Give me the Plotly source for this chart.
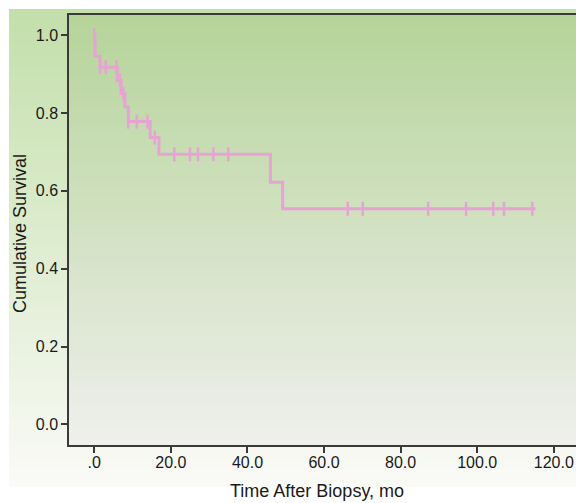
import plotly.graph_objects as go

# ---- data ----
event_times = [0.2, 1.5, 6.0, 7.0, 8.0, 8.9, 14.6, 16.9, 46.0, 49.2]
survival = [0.946, 0.918, 0.884, 0.850, 0.816, 0.778, 0.737, 0.694, 0.622, 0.554]
end_time = 115.2
censor_times = [0.0, 1.5, 3.0, 5.8, 6.7, 7.6, 8.9, 11.1, 13.9, 15.8, 20.9, 25.0,
                27.1, 31.1, 35.0, 66.2, 70.1, 87.2, 97.1, 104.2, 107.0, 114.4]
x_ticks = [0, 20, 40, 60, 80, 100, 120]
x_tick_labels = [".0", "20.0", "40.0", "60.0", "80.0", "100.0", "120.0"]
y_ticks = [0.0, 0.2, 0.4, 0.6, 0.8, 1.0]
y_tick_labels = ["0.0", "0.2", "0.4", "0.6", "0.8", "1.0"]


def surv_at(t):
    s = 1.0
    for et, sv in zip(event_times, survival):
        if t >= et:
            s = sv
    return s


line_x = [0.0] + event_times + [end_time]
line_y = [1.0] + survival + [survival[-1]]
cens_y = [surv_at(t) for t in censor_times]

PINK = "#e6a3d4"
W, H = 576, 503
L, R, T, B = 69, 0, 15, 58
PW, PH = W - L - R, H - T - B


def px2paper_x(px):
    return (px - L) / PW


def px2paper_y(py):
    return (H - B - py) / PH


def lerp(c1, c2, f):
    return "rgb(%d,%d,%d)" % tuple(round(a + (b - a) * f) for a, b in zip(c1, c2))


shapes = []
# outer gradient
o_top, o_bot = (195, 223, 170), (250, 250, 247)
y0p, y1p = 9, 487
n = 80
for i in range(n):
    a = y0p + (y1p - y0p) * i / n
    b = y0p + (y1p - y0p) * (i + 1) / n + 0.8
    shapes.append(dict(type="rect", xref="paper", yref="paper", layer="below",
                       x0=px2paper_x(9), x1=px2paper_x(W + 2),
                       y0=px2paper_y(min(b, y1p)), y1=px2paper_y(a),
                       fillcolor=lerp(o_top, o_bot, i / (n - 1)), line_width=0))
# inner gradient (plot area)
i_top, i_bot = (182, 212, 154), (239, 239, 236)
n2 = 80
for i in range(n2):
    a = i / n2
    b = min(1.0, (i + 1) / n2 + 0.003)
    shapes.append(dict(type="rect", xref="paper", yref="paper", layer="below",
                       x0=0, x1=1.01, y0=1 - b, y1=1 - a,
                       fillcolor=lerp(i_top, i_bot, i / (n2 - 1)), line_width=0))

fig = go.Figure()
fig.add_trace(go.Scatter(x=line_x, y=line_y, mode="lines", line_shape="hv",
                         line=dict(color=PINK, width=3), hoverinfo="skip",
                         showlegend=False))
fig.add_trace(go.Scatter(x=censor_times, y=cens_y, mode="markers",
                         marker=dict(symbol="line-ns-open", size=10, color=PINK,
                                     line=dict(color=PINK, width=2.5)),
                         showlegend=False))

FONT = "Liberation Sans, Arial, sans-serif"
AX = "#3a3a3a"
fig.update_layout(
    width=W, height=H,
    margin=dict(l=L, r=R, t=T, b=B, pad=0),
    paper_bgcolor="white", plot_bgcolor="rgba(0,0,0,0)",
    shapes=shapes,
    font=dict(family=FONT, size=16, color="#1a1a1a"),
    xaxis=dict(range=[-6.6, 125.8], tickvals=x_ticks, ticktext=x_tick_labels,
               showgrid=False, zeroline=False, showline=True, linecolor=AX,
               linewidth=1.5, mirror=True, ticks="outside", ticklen=6,
               tickcolor=AX, tickwidth=1.5, tickfont=dict(size=16),
               ticklabelstandoff=-4),
    yaxis=dict(range=[-0.053, 1.052], tickvals=y_ticks, ticktext=y_tick_labels,
               showgrid=False, zeroline=False, showline=True, linecolor=AX,
               linewidth=1.5, ticks="outside", ticklen=6, tickcolor=AX,
               tickwidth=1.5, tickfont=dict(size=16)),
    annotations=[
        dict(text="Time After Biopsy, mo", xref="paper", yref="paper",
             x=px2paper_x(317), y=px2paper_y(491), showarrow=False,
             font=dict(size=18), xanchor="center", yanchor="middle"),
        dict(text="Cumulative Survival", xref="paper", yref="paper",
             x=px2paper_x(20), y=px2paper_y(234), showarrow=False,
             textangle=-90, font=dict(size=18), xanchor="center", yanchor="middle"),
    ],
)

fig.write_html("out.html", config={"displayModeBar": False},
               post_script="document.body.style.margin='0';document.body.style.overflow='hidden';")
